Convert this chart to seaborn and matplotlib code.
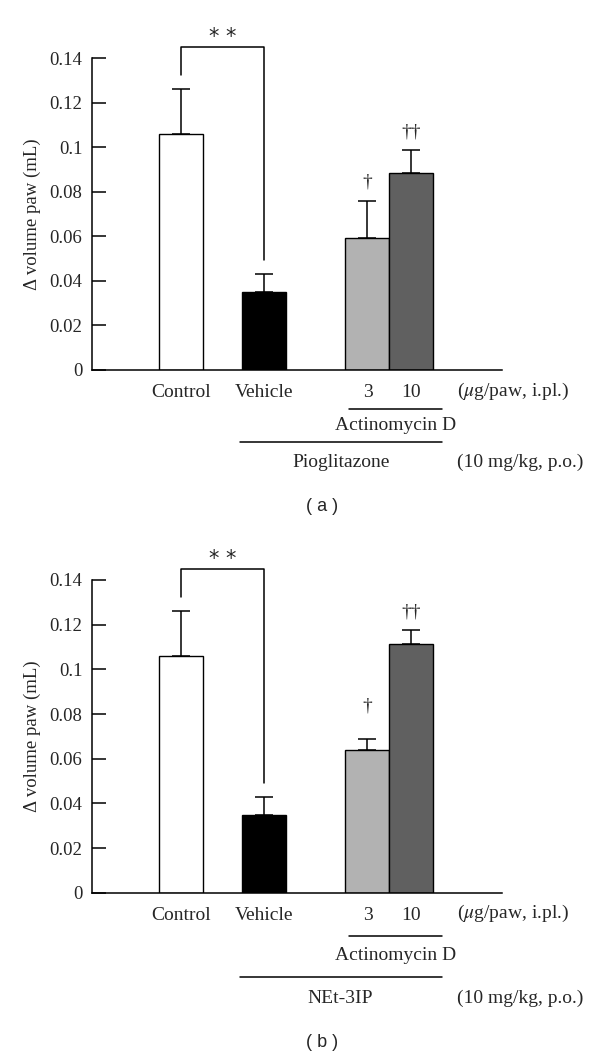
import numpy as np
import matplotlib
matplotlib.use("Agg")
import matplotlib.pyplot as plt
import matplotlib.transforms as mtransforms
import seaborn as sns

# Dados
grupos = ["Control", "Vehicle", "3", "10"]
cores = ["#ffffff", "#000000", "#b2b2b2", "#606060"]

media_a = [0.106, 0.035, 0.0595, 0.0885]
erro_a = [0.020, 0.008, 0.0165, 0.0105]

media_b = [0.106, 0.035, 0.064, 0.1113]
erro_b = [0.020, 0.008, 0.0049, 0.0062]

farmaco_a = "Pioglitazone"
farmaco_b = "NEt-3IP"

# posicoes das barras no eixo x (layout)
posicoes = [2.03, 3.92, 6.26, 7.26]

sns.set_style("white")
plt.rcParams["font.family"] = ["Liberation Serif", "DejaVu Serif"]
plt.rcParams["mathtext.fontset"] = "stix"

fig = plt.figure(figsize=(6, 10.58), dpi=100)
fs = 14


def painel(rect, medias, erros, farmaco, letra, letra_y, offs, dag_off):
    ax = fig.add_axes(rect)
    sns.barplot(x=posicoes, y=medias, hue=grupos, palette=cores, native_scale=True,
                width=1.0, dodge=False, edgecolor="black", linewidth=1.0,
                errorbar=None, legend=False, ax=ax)
    centros = [p.get_x() + p.get_width() / 2 for p in ax.patches][:len(medias)]
    ax.errorbar(centros, medias, yerr=[np.zeros(len(erros)), erros], fmt="none",
                ecolor="black", elinewidth=1.1, capsize=6.4, capthick=1.1, zorder=5)

    ax.set_xlim(0, 9.31)
    ax.set_ylim(0, 0.14)
    ax.set_yticks([0, 0.02, 0.04, 0.06, 0.08, 0.1, 0.12, 0.14])
    ax.set_yticklabels(["0", "0.02", "0.04", "0.06", "0.08", "0.1", "0.12", "0.14"])
    ax.set_xticks(centros)
    ax.set_xticklabels(grupos)
    ax.tick_params(axis="y", left=True, direction="in", length=9.9, width=1.1,
                   color="black", pad=7, labelsize=13.5)
    ax.tick_params(axis="x", bottom=False, length=0, pad=10, labelsize=fs)
    ax.set_ylabel("\u0394 volume paw (mL)", fontsize=13.5, labelpad=6)
    for s in ["top", "right"]:
        ax.spines[s].set_visible(False)
    for s in ["left", "bottom"]:
        ax.spines[s].set_linewidth(1.1)
        ax.spines[s].set_color("black")

    # colchete de significancia
    topo = [m + e for m, e in zip(medias, erros)]
    ax.plot([centros[0], centros[0], centros[1], centros[1]],
            [topo[0] + 0.0063, 0.145, 0.145, topo[1] + 0.0063],
            color="black", lw=1.1, clip_on=False)
    ax.text((centros[0] + centros[1]) / 2, 0.1495, "* *", ha="center", va="center",
            fontsize=15, family="DejaVu Sans", clip_on=False)
    ax.text(centros[2], topo[2] + dag_off[0], "\u2020", ha="center", va="center", fontsize=14)
    ax.text(centros[3], topo[3] + dag_off[1], "\u2020\u2020", ha="center", va="center", fontsize=14)

    # anotacoes abaixo do eixo
    base = mtransforms.blended_transform_factory(ax.transData, ax.transAxes)

    def abaixo(px):
        return mtransforms.offset_copy(base, fig=fig, y=-px, units="dots")

    ax.text(8.3, 0, "($\\mu$g/paw, i.pl.)", transform=abaixo(offs[0]), ha="left",
            va="center", fontsize=fs)
    ax.plot([5.84, 7.95], [0, 0], color="black", lw=1.1, transform=abaixo(offs[1]), clip_on=False)
    ax.text(6.91, 0, "Actinomycin D", transform=abaixo(offs[2]), ha="center", va="center", fontsize=fs)
    ax.plot([3.36, 7.95], [0, 0], color="black", lw=1.1, transform=abaixo(offs[3]), clip_on=False)
    ax.text(5.65, 0, farmaco, transform=abaixo(offs[4]), ha="center", va="center", fontsize=fs)
    ax.text(8.29, 0, "(10 mg/kg, p.o.)", transform=abaixo(offs[4]), ha="left", va="center", fontsize=fs)

    fig.text(0.536, letra_y, "( %s )" % letra, ha="center", va="center", fontsize=13,
             family="Liberation Sans")
    return ax


painel([0.1533, 0.6503, 0.6828, 0.2946], media_a, erro_a, farmaco_a, "a", 0.521,
       [21.7, 39, 55.7, 71.7, 92.7], [0.0086, 0.008])
painel([0.1533, 0.1562, 0.6828, 0.2956], media_b, erro_b, farmaco_b, "b", 0.0142,
       [20.6, 43, 63, 84.6, 105.6], [0.0145, 0.0083])

fig.savefig("out.png", dpi=100)
